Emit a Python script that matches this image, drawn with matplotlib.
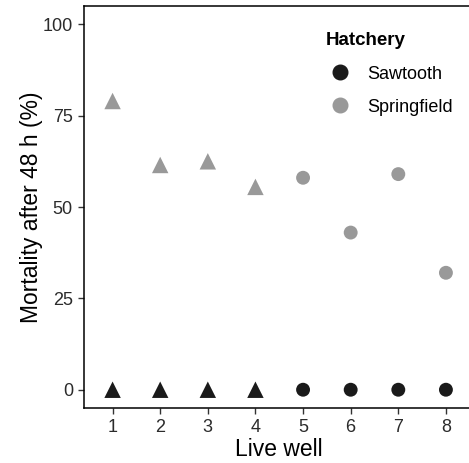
import matplotlib
matplotlib.use('Agg')
import matplotlib.pyplot as plt
from matplotlib.lines import Line2D

plt.rcParams['font.family'] = ['Liberation Sans', 'DejaVu Sans']

# Data
wells = [1, 2, 3, 4, 5, 6, 7, 8]
sawtooth = [0, 0, 0, 0, 0, 0, 0, 0]
springfield = [79, 61.5, 62.5, 55.5, 58, 43, 59, 32]
shapes = ['^', '^', '^', '^', 'o', 'o', 'o', 'o']

dark = '#1a1a1a'
light = '#999999'

fig = plt.figure(figsize=(4.69, 4.63), dpi=100)
ax = fig.add_axes([84 / 469, 55 / 463, 390.5 / 469, 402 / 463])

for x, ys, yd, m in zip(wells, springfield, sawtooth, shapes):
    size = 140 if m == '^' else 100
    ax.scatter(x, ys, marker=m, s=size, color=light, edgecolors='none', zorder=3)
    ax.scatter(x, yd, marker=m, s=size, color=dark, edgecolors='none', zorder=3)

ax.set_xlim(0.4, 8.6)
ax.set_ylim(-5, 105)
ax.set_xticks(wells)
ax.set_yticks([0, 25, 50, 75, 100])
ax.tick_params(labelsize=13, labelcolor='#2b2b2b', length=4, width=1, color='#333333', pad=4)
ax.spines['right'].set_visible(False)
for s in ['left', 'bottom', 'top']:
    ax.spines[s].set_linewidth(1.1)
ax.set_xlabel('Live well', fontsize=16.5, labelpad=1)
ax.set_ylabel('Mortality after 48 h (%)', fontsize=16.5, labelpad=0)

handles = [Line2D([], [], marker='o', linestyle='none', color=dark, markersize=10.5),
           Line2D([], [], marker='o', linestyle='none', color=light, markersize=10.5)]
leg = ax.legend(handles, ['Sawtooth', 'Springfield'], title='Hatchery',
                loc='upper left', bbox_to_anchor=(0.578, 0.975), frameon=False,
                fontsize=13, title_fontsize=13.5, handletextpad=0.7,
                handlelength=1.6, labelspacing=0.9, alignment='left')
leg.get_title().set_fontweight('bold')

fig.savefig('out.png', dpi=100)
